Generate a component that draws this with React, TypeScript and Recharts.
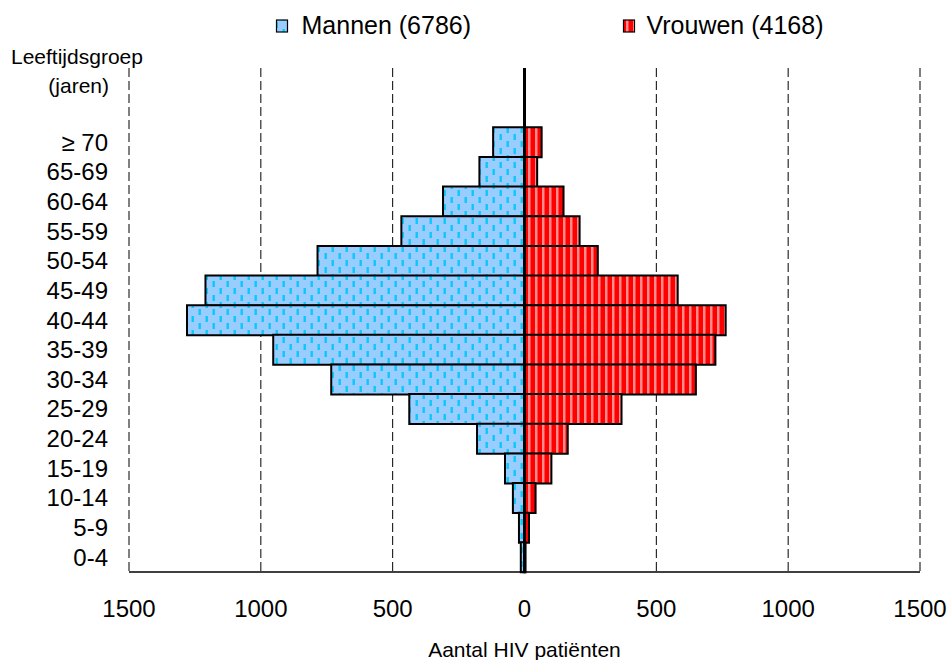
import React from 'react';
import {
  BarChart,
  Bar,
  XAxis,
  YAxis,
  CartesianGrid,
  ReferenceLine,
  Legend,
} from 'recharts';

const ageGroups = ['≥ 70', '65-69', '60-64', '55-59', '50-54', '45-49', '40-44', '35-39', '30-34', '25-29', '20-24', '15-19', '10-14', '5-9', '0-4'];
const menValues = [119, 171, 309, 467, 785, 1210, 1280, 953, 733, 437, 180, 74, 44, 21, 14];
const womenValues = [65, 48, 148, 209, 278, 581, 763, 724, 650, 368, 164, 102, 42, 17, 4];
const xTicks = [-1500, -1000, -500, 0, 500, 1000, 1500];
const seriesNames = ['Mannen (6786)', 'Vrouwen (4168)'];
const blankRows = ['', ' '];

const data = [
  ...blankRows.map((g) => ({ group: g, men: null as number | null, women: null as number | null })),
  ...ageGroups.map((g, i) => ({ group: g, men: -menValues[i], women: womenValues[i] })),
];

const FONT = '"Liberation Sans", Arial, Helvetica, sans-serif';

const PatternDefs = ({ prefix }: { prefix: string }) => (
  <defs>
    <pattern id={`${prefix}M`} patternUnits="userSpaceOnUse" width={14} height={14}>
      <rect x={0} y={0} width={14} height={14} fill="#99CCFF" />
      <rect x={2.5} y={1} width={2.4} height={6} fill="#0AC8FA" />
      <rect x={9.5} y={8} width={2.4} height={6} fill="#0AC8FA" />
    </pattern>
    <pattern id={`${prefix}W`} patternUnits="userSpaceOnUse" width={7} height={10}>
      <rect x={0} y={0} width={7} height={10} fill="#FF0000" />
      <rect x={3} y={0} width={2.5} height={10} fill="#FF8C8C" />
    </pattern>
  </defs>
);

const LegendContent = () => (
  <svg width={948} height={40} style={{ display: 'block' }}>
    <PatternDefs prefix="leg" />
    <rect x={276.5} y={20} width={11} height={12} fill="url(#legM)" stroke="#000" strokeWidth={1.2} />
    <text x={301.5} y={33.7} fontSize={25} fontFamily={FONT} fill="#000">
      {seriesNames[0]}
    </text>
    <rect x={623.5} y={20} width={11} height={12} fill="url(#legW)" stroke="#000" strokeWidth={1.2} />
    <text x={646.5} y={33.7} fontSize={25} fontFamily={FONT} fill="#000">
      {seriesNames[1]}
    </text>
  </svg>
);

const YTitle = () => (
  <g>
    <text x={11} y={64} fontSize={21} fontFamily={FONT} fill="#000">
      Leeftijdsgroep
    </text>
    <text x={109} y={93} fontSize={21} fontFamily={FONT} fill="#000" textAnchor="end">
      (jaren)
    </text>
  </g>
);

const XTitle = () => (
  <text x={524.5} y={656.5} fontSize={21} fontFamily={FONT} fill="#000" textAnchor="middle">
    Aantal HIV patiënten
  </text>
);

export default function App() {
  return (
    <div style={{ position: 'absolute', left: 0, top: 0, width: 948, height: 660, fontFamily: FONT }}>
      <BarChart
        width={948}
        height={660}
        data={data}
        layout="vertical"
        stackOffset="sign"
        barCategoryGap={0}
        barGap={0}
        margin={{ top: 68, right: 28, bottom: 28, left: 29 }}
      >
        <PatternDefs prefix="pat" />
        <CartesianGrid
          horizontal={false}
          vertical={true}
          stroke="#000"
          strokeWidth={1}
          strokeDasharray="9 4"
        />
        <XAxis
          type="number"
          domain={[-1500, 1500]}
          ticks={xTicks}
          interval={0}
          tickFormatter={(v: number) => String(Math.abs(v))}
          axisLine={{ stroke: '#000', strokeWidth: 1.5 }}
          tickLine={false}
          tickSize={0}
          tickMargin={28}
          height={60}
          tick={{ fontSize: 24, fill: '#000', fontFamily: FONT }}
          label={{ content: () => <XTitle /> }}
        />
        <YAxis
          type="category"
          dataKey="group"
          width={100}
          interval={0}
          axisLine={false}
          tickLine={false}
          tickSize={0}
          tickMargin={21}
          tick={{ fontSize: 24, fill: '#000', fontFamily: FONT }}
          label={{ content: () => <YTitle /> }}
        />
        <ReferenceLine x={0} stroke="#000" strokeWidth={3} />
        <Bar
          dataKey="men"
          name={seriesNames[0]}
          stackId="pop"
          fill="url(#patM)"
          stroke="#000"
          strokeWidth={2}
          isAnimationActive={false}
        />
        <Bar
          dataKey="women"
          name={seriesNames[1]}
          stackId="pop"
          fill="url(#patW)"
          stroke="#000"
          strokeWidth={2}
          isAnimationActive={false}
        />
        <Legend
          layout="vertical"
          verticalAlign="middle"
          align="center"
          wrapperStyle={{ position: 'absolute', top: 0, left: 0, width: 948, height: 40 }}
          content={() => <LegendContent />}
        />
      </BarChart>
    </div>
  );
}
